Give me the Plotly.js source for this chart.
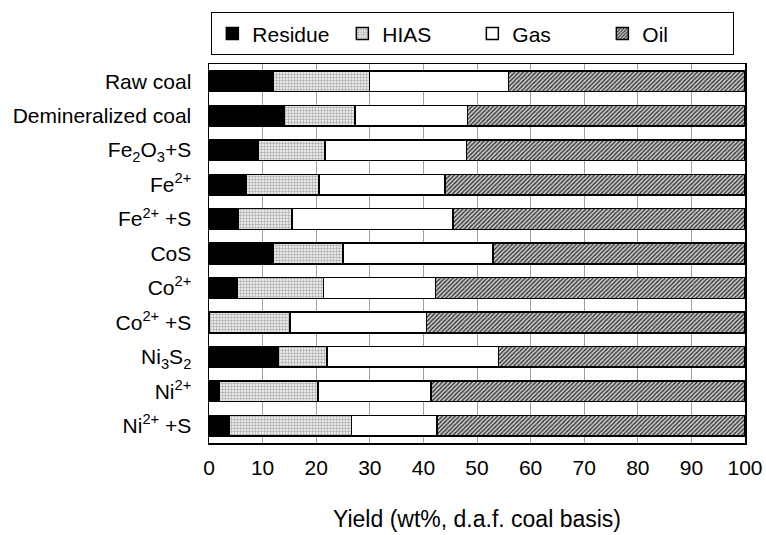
<!DOCTYPE html>
<html><head><meta charset="utf-8">
<script src="https://cdn.plot.ly/plotly-3.0.1.min.js"></script>
<style>body{margin:0;background:#fff}#c{width:766px;height:535px}</style>
</head><body><div id="c"></div>
<script>
const categories = ["Raw coal","Demineralized coal","Fe2O3+S","Fe2+","Fe2+ +S","CoS","Co2+","Co2+ +S","Ni3S2","Ni2+","Ni2+ +S"];
const tickLabels = ["Raw coal","Demineralized coal","Fe<sub>2</sub>O<sub>3</sub>+S","Fe<sup>2+</sup>","Fe<sup>2+</sup> +S","CoS","Co<sup>2+</sup>","Co<sup>2+</sup> +S","Ni<sub>3</sub>S<sub>2</sub>","Ni<sup>2+</sup>","Ni<sup>2+</sup> +S"];
const residue = [12.0, 14.1, 9.1, 7.0, 5.5, 12.0, 5.3, 0.0, 13.0, 1.9, 3.7];
const hias    = [17.9, 13.1, 12.5, 13.5, 10.0, 13.0, 16.1, 15.1, 9.0, 18.4, 22.9];
const gas     = [26.0, 21.0, 26.4, 23.5, 30.0, 28.0, 20.9, 25.5, 32.0, 21.1, 15.9];
const oil     = residue.map((r,i)=>+(100 - r - hias[i] - gas[i]).toFixed(1));

const line = {color:'#000', width:1.5};
const common = {type:'bar', orientation:'h', y:categories, width:0.6, hoverinfo:'x+name'};
const traces = [
  Object.assign({}, common, {name:'Residue', x:residue, marker:{color:'#000', line:line}}),
  Object.assign({}, common, {name:'HIAS', x:hias, marker:{color:'#e6e6e6', line:line, pattern:{shape:'+', fgcolor:'#9a9a9a', bgcolor:'#e8e8e8', size:3, solidity:0.3}}}),
  Object.assign({}, common, {name:'Gas', x:gas, marker:{color:'#fff', line:line}}),
  Object.assign({}, common, {name:'Oil', x:oil, marker:{color:'#fff', line:line, pattern:{shape:'/', fgcolor:'#333', bgcolor:'#d0d0d0', size:3, solidity:0.45}}})
];

const layout = {
  width:766, height:535,
  margin:{l:209, r:21, t:64, b:92, autoexpand:false},
  barmode:'stack',
  paper_bgcolor:'#fff', plot_bgcolor:'#fff',
  font:{family:'Liberation Sans, Arial, sans-serif', color:'#000', size:21},
  showlegend:true,
  legend:{orientation:'h', x:0.004, xanchor:'left', y:1.137, yanchor:'top',
    bordercolor:'#000', borderwidth:1.2, font:{size:21}, entrywidth:85, entrywidthmode:'pixels',
    traceorder:'normal', itemwidth:30},
  xaxis:{range:[0,100], dtick:10, tick0:0, showgrid:true, gridcolor:'#a0a0a0', gridwidth:1,
    showline:true, linecolor:'#000', linewidth:1.5, mirror:true, zeroline:false,
    ticks:'', tickfont:{size:21}, ticklabelstandoff:5,
    title:{text:'Yield (wt%, d.a.f. coal basis)', font:{size:23}, standoff:33}},
  yaxis:{type:'category', autorange:false, range:[10.5,-0.5], tickmode:'array', tickvals:categories, ticktext:tickLabels,
    showline:true, linecolor:'#000', linewidth:1.5, mirror:true, showgrid:false, zeroline:false,
    ticks:'', tickfont:{size:21}, ticklabelstandoff:12}
};
Plotly.newPlot('c', traces, layout, {displayModeBar:false, staticPlot:true});
</script></body></html>
